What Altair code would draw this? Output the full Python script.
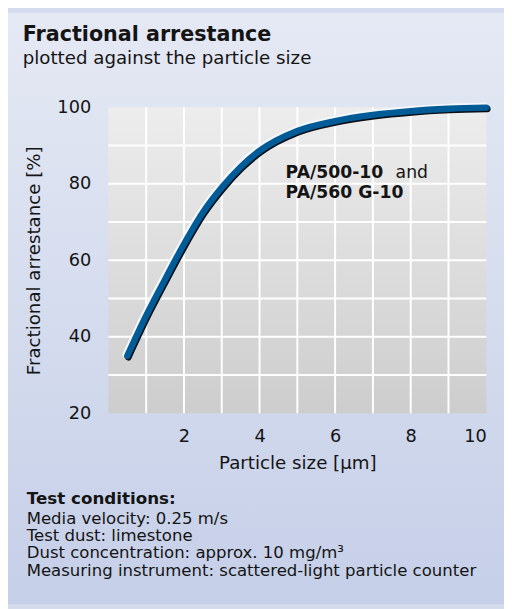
import altair as alt
import pandas as pd

# ---- data ----
particle_size = [0.5, 1.0, 1.5, 2.0, 2.5, 3.0, 3.5, 4.0, 5.0, 6.0, 7.0, 8.0, 9.0, 10.0]
arrestance = [35.0, 45.5, 55.0, 64.2, 72.5, 79.0, 84.4, 88.6, 93.8, 96.4, 98.0, 99.0, 99.6, 99.9]

x_ticks = [2, 4, 6, 8, 10]
y_ticks = [20, 40, 60, 80, 100]
x_grid = [1, 2, 3, 4, 5, 6, 7, 8, 9]
y_grid = [30, 40, 50, 60, 70, 80, 90]

title_text = "Fractional arrestance"
subtitle_text = "plotted against the particle size"
x_title = "Particle size [µm]"
y_title = "Fractional arrestance [%]"

label_bold = ["PA/500-10", "PA/560 G-10"]
label_regular = ["and"]

footer_head = "Test conditions:"
footer_lines = [
    "Media velocity: 0.25 m/s",
    "Test dust: limestone",
    "Dust concentration: approx. 10 mg/m³",
    "Measuring instrument: scattered-light particle counter",
]

FONT = "DejaVu Sans"
INK = "#141414"

curve = pd.DataFrame({"size": particle_size, "arr": arrestance})
xs = alt.Scale(domain=[0, 10], nice=False, zero=False)
ys = alt.Scale(domain=[20, 100], nice=False, zero=False)

x_axis = alt.Axis(
    values=x_ticks, grid=False, domain=False, ticks=False, title=x_title, zindex=2,
    labelFont=FONT, labelFontSize=18, labelColor=INK, labelPadding=15,
    titleFont=FONT, titleFontSize=18.5, titleFontWeight="normal", titleColor=INK, titlePadding=8,
)
y_axis = alt.Axis(
    values=y_ticks, grid=False, domain=False, ticks=False, title=y_title, zindex=2,
    labelFont=FONT, labelFontSize=18, labelColor=INK, labelPadding=18,
    titleFont=FONT, titleFontSize=18.5, titleFontWeight="normal", titleColor=INK, titlePadding=14,
)

# page background (gradient)
bg = alt.Chart(pd.DataFrame({"a": [0]})).mark_rect(
    color=alt.Gradient(
        gradient="linear",
        stops=[alt.GradientStop(color="#e5e9f4", offset=0),
               alt.GradientStop(color="#c5cfe8", offset=1)],
        x1=0, x2=0, y1=0, y2=1,
    )
).encode(x=alt.value(-102), x2=alt.value(402), y=alt.value(-96), y2=alt.value(505))

# plot area gradient with axes
plot_bg = alt.Chart(pd.DataFrame({"x0": [0], "x1": [10], "y0": [20], "y1": [100]})).mark_rect(
    color=alt.Gradient(
        gradient="linear",
        stops=[alt.GradientStop(color="#ededed", offset=0),
               alt.GradientStop(color="#cdcdcd", offset=1)],
        x1=0, x2=0, y1=0, y2=1,
    )
).encode(
    x=alt.X("x0:Q", scale=xs, axis=x_axis),
    x2="x1:Q",
    y=alt.Y("y0:Q", scale=ys, axis=y_axis),
    y2="y1:Q",
)

vgrid = alt.Chart(pd.DataFrame({"g": x_grid})).mark_rule(color="white", strokeWidth=2).encode(
    x=alt.X("g:Q", scale=xs, axis=x_axis))
hgrid = alt.Chart(pd.DataFrame({"g": y_grid})).mark_rule(color="white", strokeWidth=2).encode(
    y=alt.Y("g:Q", scale=ys, axis=y_axis))

def curve_layer(color, width, ddx, ddy):
    return alt.Chart(curve).transform_calculate(
        xx=f"datum.size + ({ddx})", yy=f"datum.arr + ({ddy})"
    ).mark_line(color=color, strokeWidth=width, strokeCap="round", interpolate="monotone").encode(
        x=alt.X("xx:Q", scale=xs, axis=x_axis),
        y=alt.Y("yy:Q", scale=ys, axis=y_axis),
    )

highlight = curve_layer("#f4f8fc", 6.5, -0.04, 0.42)
shadow = curve_layer("#0a0f18", 6.5, 0.03, -0.36)
main = curve_layer("#005b96", 6.5, 0, 0)

ann_bold = alt.Chart(pd.DataFrame({"x": [4.69, 4.69], "y": [81.5, 76.3], "t": label_bold})).mark_text(
    align="left", baseline="alphabetic", font=FONT, fontSize=17.5, fontWeight="bold", color=INK
).encode(x=alt.X("x:Q", scale=xs, axis=x_axis), y=alt.Y("y:Q", scale=ys, axis=y_axis), text="t:N")
ann_reg = alt.Chart(pd.DataFrame({"x": [7.6], "y": [81.5], "t": label_regular})).mark_text(
    align="left", baseline="alphabetic", font=FONT, fontSize=17.5, color=INK
).encode(x=alt.X("x:Q", scale=xs, axis=x_axis), y=alt.Y("y:Q", scale=ys, axis=y_axis), text="t:N")

title_mark = alt.Chart(pd.DataFrame({"t": [title_text]})).mark_text(
    align="left", baseline="alphabetic", font=FONT, fontSize=21, fontWeight="bold", color=INK
).encode(x=alt.value(-87), y=alt.value(-67), text="t:N")
subtitle_mark = alt.Chart(pd.DataFrame({"t": [subtitle_text]})).mark_text(
    align="left", baseline="alphabetic", font=FONT, fontSize=18.5, color=INK
).encode(x=alt.value(-87), y=alt.value(-44), text="t:N")

foot_head = alt.Chart(pd.DataFrame({"t": [footer_head]})).mark_text(
    align="left", baseline="alphabetic", font=FONT, fontSize=17, fontWeight="bold", color=INK
).encode(x=alt.value(-83), y=alt.value(403), text="t:N")
foot_body = alt.Chart(pd.DataFrame({"t": ["\n".join(footer_lines)]})).mark_text(
    align="left", baseline="alphabetic", font=FONT, fontSize=16.8, color=INK,
    lineBreak="\n", lineHeight=17.7
).encode(x=alt.value(-83), y=alt.value(423), text="t:N")

chart = alt.layer(
    bg, plot_bg, vgrid, hgrid, highlight, shadow, main, ann_bold, ann_reg,
    title_mark, subtitle_mark, foot_head, foot_body
).properties(
    width=384, height=311,
    autosize=alt.AutoSizeParams(type="none"),
    padding={"left": 102, "top": 96, "right": 18, "bottom": 194},
).configure(background="#d5dcee").configure_view(stroke=None)

chart.save("out.html", embed_options={"renderer": "svg", "actions": False})
